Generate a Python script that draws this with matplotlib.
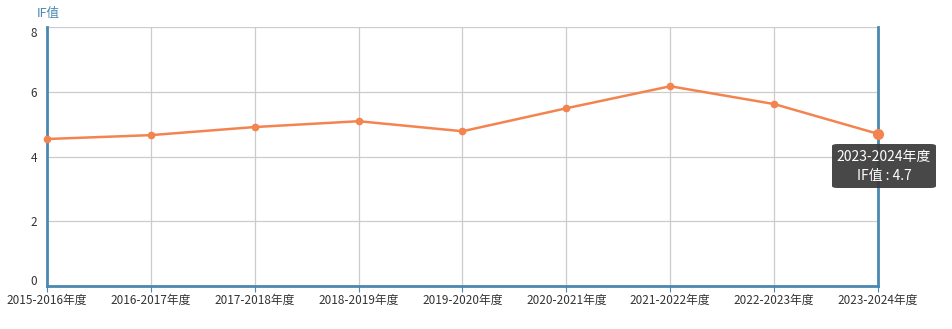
import matplotlib
matplotlib.use("Agg")
import matplotlib.pyplot as plt
import matplotlib.transforms as mtrans
from matplotlib.patches import FancyBboxPatch

plt.rcParams['font.family'] = ['Noto Sans CJK SC', 'DejaVu Sans']

years = ["2015-2016年度", "2016-2017年度", "2017-2018年度", "2018-2019年度",
         "2019-2020年度", "2020-2021年度", "2021-2022年度", "2022-2023年度",
         "2023-2024年度"]
if_values = [4.54, 4.66, 4.91, 5.09, 4.78, 5.49, 6.17, 5.62, 4.7]
y_ticks = [0, 2, 4, 6, 8]

axis_color = "#4a88b0"
line_color = "#f4844f"
grid_color = "#cccccc"

fig = plt.figure(figsize=(9.53, 3.29), dpi=100)
W, H = 953, 329
ax = fig.add_axes([47 / W, 1 - 286 / H, (878 - 47) / W, (286 - 27) / H])

x = list(range(len(years)))
ax.plot(x, if_values, color=line_color, lw=1.8, marker="o", ms=4.5, zorder=3, clip_on=False)
ax.plot(x[-1], if_values[-1], "o", color=line_color, ms=7, zorder=4, clip_on=False)

ax.set_xlim(0, len(years) - 1)
ax.set_ylim(0, 8)
ax.set_xticks(x)
ax.set_xticklabels(years, fontsize=8.5, color="#333333")
ax.set_yticks(y_ticks)
ax.set_yticklabels([str(v) for v in y_ticks], fontsize=8.5, color="#333333")
ax.grid(True, color=grid_color, lw=0.9)
ax.set_axisbelow(True)

for side in ["top", "right"]:
    ax.spines[side].set_visible(False)
for side in ["left", "bottom"]:
    ax.spines[side].set_color(axis_color)
    ax.spines[side].set_linewidth(2)
ax.tick_params(axis="x", length=4, color=axis_color, pad=2)
ax.tick_params(axis="y", length=0, pad=7)

# nudge the end labels inward like the original
labels = ax.get_yticklabels()
labels[0].set_transform(labels[0].get_transform() + mtrans.ScaledTranslation(0, 6 / 100, fig.dpi_scale_trans))
labels[-1].set_transform(labels[-1].get_transform() + mtrans.ScaledTranslation(0, -5 / 100, fig.dpi_scale_trans))

# axis pointer line at hovered item
ax.axvline(x[-1], color=axis_color, lw=2, zorder=2.5, clip_on=False)

fig.text(37 / W, 1 - 14 / H, "IF值", fontsize=9, color=axis_color, va="center", ha="left")

# tooltip
bx0, by0, bw, bh = 832, 144, 104, 44
box = FancyBboxPatch((bx0 / W, 1 - (by0 + bh) / H), bw / W, bh / H,
                     boxstyle="round,pad=0,rounding_size=0.006",
                     transform=fig.transFigure, facecolor="#3a3a3a",
                     edgecolor="none", alpha=0.93, zorder=10)
fig.add_artist(box)
fig.text((bx0 + bw / 2) / W, 1 - 157 / H, years[-1], color="white",
         fontsize=10, ha="center", va="center", zorder=11)
fig.text((bx0 + bw / 2) / W, 1 - 176 / H, f"IF值 : {if_values[-1]}", color="white",
         fontsize=10, ha="center", va="center", zorder=11)

fig.savefig("out.png", dpi=100)
